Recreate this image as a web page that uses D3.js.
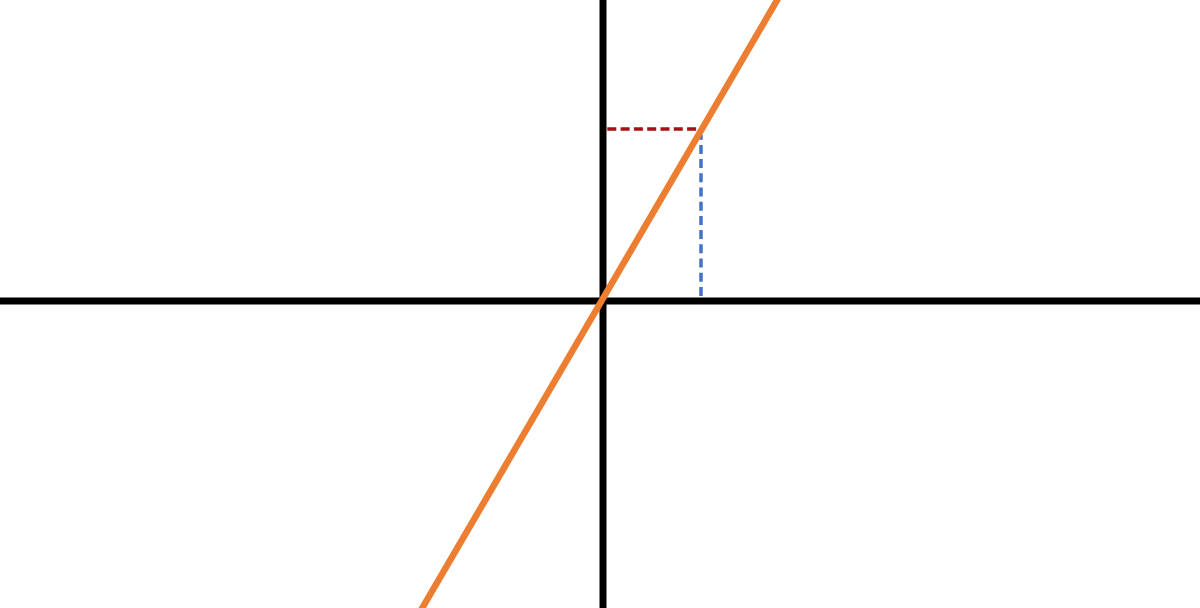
<!DOCTYPE html>
<html>
<head>
<meta charset="utf-8">
<script src="https://cdn.jsdelivr.net/npm/d3@7"></script>
<style>
html,body{margin:0;padding:0;background:#fff;}
svg{display:block;}
</style>
</head>
<body>
<svg id="chart" width="1200" height="608"></svg>
<script>
// Data (units: value space)
const xDomain = [-6.03, 5.97];
const yDomain = [3.01, -3.07];
const linePoints = [{x: -1.85, y: -3.143}, {x: 1.78, y: 3.075}];
const pointP = {x: 0.98, y: 1.72};
const redSegment = [{x: 0.043, y: 1.72}, {x: 0.95, y: 1.72}];
const blueSegment = [{x: 0.98, y: 1.66}, {x: 0.98, y: 0.04}];

const W = 1200, H = 608;
const svg = d3.select("#chart");
const x = d3.scaleLinear().domain(xDomain).range([0, W]);
const y = d3.scaleLinear().domain(yDomain).range([0, H]);
const line = d3.line().x(d => x(d.x)).y(d => y(d.y));

// Axes
svg.append("line")
  .attr("x1", 0).attr("x2", W)
  .attr("y1", y(0)).attr("y2", y(0))
  .attr("stroke", "#000").attr("stroke-width", 7);
svg.append("line")
  .attr("x1", x(0)).attr("x2", x(0))
  .attr("y1", 0).attr("y2", H)
  .attr("stroke", "#000").attr("stroke-width", 7);

// Dashed guides
svg.append("path").datum(redSegment)
  .attr("d", line).attr("fill", "none")
  .attr("stroke", "#a50f15").attr("stroke-width", 3.3)
  .attr("stroke-dasharray", "9,4.3");
svg.append("path").datum(blueSegment)
  .attr("d", line).attr("fill", "none")
  .attr("stroke", "#4472c4").attr("stroke-width", 3.5)
  .attr("stroke-dasharray", "9,5.2")
  .attr("stroke-dashoffset", 4.3);

// Orange line
svg.append("path").datum(linePoints)
  .attr("d", line).attr("fill", "none")
  .attr("stroke", "#ed7d31").attr("stroke-width", 6.5);
</script>
</body>
</html>
